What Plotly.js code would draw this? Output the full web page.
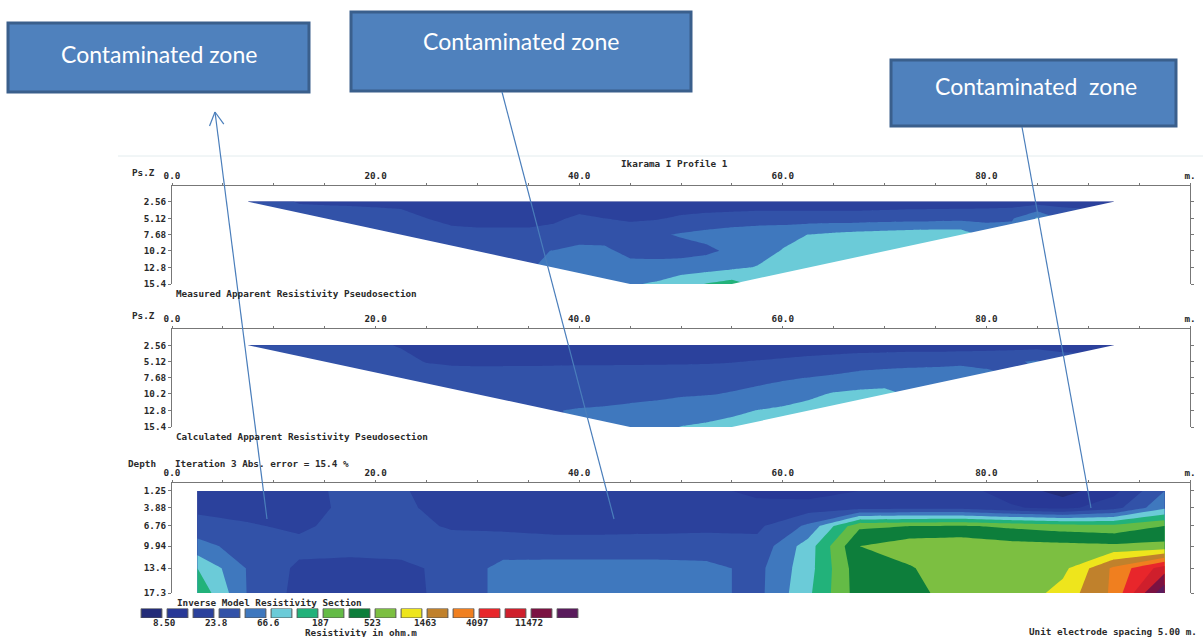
<!DOCTYPE html>
<html><head><meta charset="utf-8">
<script src="https://cdn.plot.ly/plotly-3.0.1.min.js"></script>
<style>html,body{margin:0;padding:0;background:#fff;overflow:hidden}#chart{width:1203px;height:637px}</style>
</head><body><div id="chart"></div>
<script>
// ---------------- data ----------------
const pseudoDepths = [2.56, 5.12, 7.68, 10.2, 12.8, 15.4];
const gridStep = 2.5;                                  // horizontal sampling of the pseudosections (m)
const levelStartX = [7.5, 15, 22.5, 30, 37.5, 45];     // first sample of each data level (m)

// Measured apparent resistivity (ohm.m), one array per level, sampled every 2.5 m
const measuredL1 = [29.2,26.4,23.2,22.0,21.5,20.4,19.4,18.4,17.5,17.5,17.5,17.5,17.5,17.9,18.4,17.9,17.5,17.5,17.5,17.5,17.5,17.5,17.5,17.5,17.5,17.9,18.4,18.4,18.4,18.4,18.4,18.9,19.4,20.4,21.5];
const measuredL2 = [32.4,32.4,32.4,30.8,23.8,20.4,19.4,19.4,19.4,21.5,26.4,23.8,21.5,22.6,25.7,27.8,29.2,30.8,30.8,30.8,30.8,30.8,31.6,32.4,33.3,34.1,35.0,37.8,70.2];
const measuredL3 = [32.4,30.8,28.5,27.8,27.8,27.8,29.2,30.8,32.4,34.1,36.9,41.9,46.5,51.5,54.2,57.1,67.0,73.9,79.9,84.0,88.5,90.8,90.8];
const measuredL4 = [35.9,36.9,37.8,40.2,46.5,44.1,34.1,32.4,32.4,35.9,44.1,54.2,68.4,77.8,86.2,90.8,95.5];
const measuredL5 = [41.9,44.1,46.5,47.7,48.9,51.5,54.2,60.1,68.4,81.9,105.8];
const measuredL6 = [63.3,70.2,90.8,114.0,137.0];

// Calculated apparent resistivity (ohm.m)
const calculatedL1 = [29.2,28.5,27.8,27.1,26.4,25.1,23.2,20.4,18.4,17.5,17.5,17.5,17.5,17.5,17.5,17.5,17.5,17.5,17.5,17.5,17.5,17.5,17.5,17.5,17.9,17.9,18.4,18.4,18.9,18.9,19.4,19.9,20.4,21.5,22.6];
const calculatedL2 = [30.8,30.0,29.2,26.4,23.4,22.6,22.4,22.4,22.4,22.4,22.4,22.4,22.4,22.4,22.4,22.6,23.2,24.4,25.7,27.8,30.0,32.4,34.1,35.0,35.0,35.9,36.9,37.8,41.9];
const calculatedL3 = [29.2,28.5,27.8,27.8,27.8,28.1,28.5,29.2,29.5,30.0,30.8,31.6,32.4,34.1,35.9,37.8,40.2,43.0,46.5,47.7,48.9,51.5,54.2];
const calculatedL4 = [30.8,31.6,32.4,33.3,34.1,34.5,35.0,35.9,37.8,38.8,40.9,44.1,48.9,58.6,70.2,75.8,79.9];
const calculatedL5 = [39.2,40.9,41.9,44.1,46.5,50.2,54.2,60.1,67.3,73.9,81.9];
const calculatedL6 = [51.5,57.1,67.6,72.0,77.8];

// Inverse model resistivity (ohm.m)
const modelX = [2.5,7.5,12.5,17.5,22.5,27.5,32.5,37.5,42.5,47.5,52.5,57.5,62.5,67.5,72.5,77.5,82.5,87.5,92.5,97.5];
const modelDepths = [1.25, 3.88, 6.76, 9.94, 13.4, 17.3];
const modelR1 = [18.4,17.5,19.4,27.8,25.1,18.4,18.4,18.4,18.4,18.4,17.5,11.6,11.0,14.2,16.6,16.6,11.6,6.9,12.2,39.8];
const modelR2 = [20.4,19.4,18.4,27.8,26.4,19.4,18.4,18.4,18.4,18.4,18.4,18.4,18.4,19.4,20.4,20.4,15.0,12.2,19.4,60.1];
const modelR3 = [30.8,25.1,21.5,29.2,27.8,22.6,21.5,20.4,20.4,20.9,21.5,21.5,44.1,281.7,312.3,328.8,281.7,241.4,217.7,312.3];
const modelR4 = [46.5,32.4,27.8,27.8,29.2,29.2,30.8,29.2,29.2,29.2,29.2,27.8,86.2,520,711.5,749.2,641.9,609.7,579.1,609.7];
const modelR5 = [111.4,37.8,21.5,20.4,20.9,27.8,46.5,48.9,48.9,48.9,46.5,34.1,90.8,425.3,496.2,788.7,711.5,749.2,2712,8866];
const modelR6 = [168.3,37.8,20.4,19.4,20.4,27.8,46.5,48.9,48.9,48.9,46.5,34.1,100.6,403.9,425.3,711.5,579.1,1074,2712,28970];

// Colour legend
const legendColors = ['#232c78','#283896','#2b419c','#3252a8','#3f78be','#6bcbd8','#22b27a','#64bb46','#0d7e3b',
                      '#7cbf41','#eee51c','#c0812c','#f07f1f','#e8262b','#cf1f2c','#7b1242','#5a1b5c'];
const legendLabels = ['8.50','23.8','66.6','187','523','1463','4097','11472'];
const firstLevel = 8.50;

const xTickVals = [0,20,40,60,80,100];
const xTickText = ['0.0','20.0','40.0','60.0','80.0','m.'];
const pseudoTickText = ['2.56','5.12','7.68','10.2','12.8','15.4'];
const modelTickText = ['1.25','3.88','6.76','9.94','13.4','17.3'];

// ---------------- build ----------------
const W = 1203, H = 637;
const fx = v => v / W, fy = v => 1 - v / H;
const mono = {family:'DejaVu Sans Mono, monospace', size:9.3, color:'#2a2a2a', weight:'bold'};
const logStart = Math.log10(firstLevel);
const logStep = Math.log10(parseFloat(legendLabels[1]) / firstLevel) / 2;
const colorscale = legendColors.map((c,i)=>[i/(legendColors.length-1), c]);

function contourBase(xa, ya){
  return {type:'contour', xaxis:xa, yaxis:ya, autocontour:false,
    contours:{start:logStart, end:logStart+15*logStep, size:logStep, coloring:'fill', showlines:false},
    colorscale:colorscale, showscale:false, line:{width:0, smoothing:0}, connectgaps:true, hoverinfo:'skip'};
}
function pseudoTraces(levels, xa, ya){
  const n1 = levels[0].length;
  const gx = levels[0].map((v,j)=>levelStartX[0] + j*gridStep);
  const z = levels.map((vals,i)=>{
    const off = Math.round((levelStartX[i]-levelStartX[0])/gridStep);
    const row = new Array(n1).fill(null);
    vals.forEach((v,j)=>{ row[off+j] = Math.log10(v); });
    return row;
  });
  const t = Object.assign(contourBase(xa,ya), {x:gx, y:pseudoDepths, z:z});
  const top = pseudoDepths[0], bot = pseudoDepths[pseudoDepths.length-1];
  const last = levels.length-1;
  const a = levelStartX[0], d = levelStartX[0] + (n1-1)*gridStep;
  const b = levelStartX[last], c = levelStartX[last] + (levels[last].length-1)*gridStep;
  const mk = (X,Y)=>({type:'scatter', mode:'lines', x:X, y:Y, fill:'toself', fillcolor:'#ffffff',
      line:{width:0, color:'rgba(0,0,0,0)'}, xaxis:xa, yaxis:ya, hoverinfo:'skip'});
  return [t, mk([a-3,a,b,b,a-3,a-3],[top,top,bot,bot+1,bot+1,top]),
             mk([d+3,d,c,c,d+3,d+3],[top,top,bot,bot+1,bot+1,top])];
}
const modelTrace = Object.assign(contourBase('x3','y3'), {x:modelX, y:modelDepths,
  z:[modelR1,modelR2,modelR3,modelR4,modelR5,modelR6].map(r=>r.map(v=>Math.log10(v)))});

const legendTrace = {type:'bar', x:legendColors.map((c,i)=>i), y:legendColors.map(()=>1), width:0.8,
  marker:{color:legendColors, line:{color:'#555', width:1}}, xaxis:'x4', yaxis:'y4', hoverinfo:'skip'};

const traces = [...pseudoTraces([measuredL1,measuredL2,measuredL3,measuredL4,measuredL5,measuredL6],'x','y'),
                ...pseudoTraces([calculatedL1,calculatedL2,calculatedL3,calculatedL4,calculatedL5,calculatedL6],'x2','y2'),
                modelTrace, legendTrace];

function xAx(anchor){
  return {domain:[fx(172), fx(1190)], range:[0,100], anchor:anchor, side:'top', tickvals:xTickVals, ticktext:xTickText,
    ticks:'outside', ticklen:2, tickcolor:'#777', showline:true, linecolor:'#777', linewidth:1, showgrid:false, zeroline:false,
    minor:{dtick:5, tick0:0, ticks:'outside', ticklen:2, tickcolor:'#777', showgrid:false}, tickfont:mono, fixedrange:true};
}
function yAx(anchor, top, bottom, maxD, vals, text){
  return {domain:[fy(bottom), fy(top)], range:[maxD,0], anchor:anchor, tickvals:vals, ticktext:text,
    ticks:'outside', ticklen:3, tickcolor:'#777', showline:true, linecolor:'#777', linewidth:1, mirror:'ticks',
    showgrid:false, zeroline:false, tickfont:mono, fixedrange:true};
}

const texts = [
  ['Ikarama I Profile 1', 619, 163],
  ['Ps.Z', 130, 172], ['Measured Apparent Resistivity Pseudosection', 174, 293],
  ['Ps.Z', 130, 315], ['Calculated Apparent Resistivity Pseudosection', 174, 436],
  ['Depth', 126, 463], ['Iteration 3 Abs. error = 15.4 %', 173, 463],
  ['Inverse Model Resistivity Section', 175, 602],
];
const annotations = texts.map(t=>({text:t[0], x:fx(t[1]), y:fy(t[2]), xref:'paper', yref:'paper',
  xanchor:'left', yanchor:'middle', showarrow:false, font:mono}));
legendLabels.forEach((l,i)=>annotations.push({text:l, x:2*i+0.5, y:fy(622), xref:'x4', yref:'paper',
  xanchor:'center', yanchor:'middle', showarrow:false, font:mono}));
annotations.push({text:'Resistivity in ohm.m', x:fx(361), y:fy(632), xref:'paper', yref:'paper', xanchor:'center', yanchor:'middle', showarrow:false, font:mono});
annotations.push({text:'Unit electrode spacing 5.00 m.', x:fx(1199), y:fy(631), xref:'paper', yref:'paper', xanchor:'right', yanchor:'middle', showarrow:false, font:mono});

// callout boxes
const boxes = [
  {x0:8, x1:309, y0:23, y1:92, text:'Contaminated zone', tx:159, ty:54},
  {x0:351, x1:691, y0:12, y1:91, text:'Contaminated zone', tx:521, ty:41},
  {x0:891, x1:1176, y0:60, y1:126, text:'Contaminated&nbsp; zone', tx:1036, ty:86},
];
const shapes = [{type:'line', xref:'paper', yref:'paper', x0:fx(118), x1:fx(1203), y0:fy(156), y1:fy(156), line:{color:'#e3ecee', width:1}}];
boxes.forEach(b=>{
  shapes.push({type:'rect', xref:'paper', yref:'paper', x0:fx(b.x0), x1:fx(b.x1), y0:fy(b.y1), y1:fy(b.y0),
    fillcolor:'#4f81bd', line:{color:'#3a5f8c', width:3}});
  annotations.push({text:b.text, x:fx(b.tx), y:fy(b.ty), xref:'paper', yref:'paper', xanchor:'center', yanchor:'middle',
    showarrow:false, font:{family:'Lato, Open Sans, sans-serif', size:23, color:'#ffffff'}});
});
// pointer lines
const pointers = [
  {x0:215, y0:112, x1:267, y1:519, head:true},
  {x0:502, y0:92, x1:614, y1:519},
  {x0:1022, y0:127, x1:1091, y1:508},
];
pointers.forEach(p=>{
  shapes.push({type:'line', xref:'paper', yref:'paper', x0:fx(p.x0), y0:fy(p.y0), x1:fx(p.x1), y1:fy(p.y1), line:{color:'#4a7ebb', width:1.2}});
  if(p.head){
    const dx=p.x1-p.x0, dy=p.y1-p.y0, L=Math.hypot(dx,dy), ux=dx/L, uy=dy/L;
    [-1,1].forEach(s=>{
      const ang = s*0.5, ca=Math.cos(ang), sa=Math.sin(ang);
      const ex = p.x0 + 15*(ux*ca - uy*sa), ey = p.y0 + 15*(ux*sa + uy*ca);
      shapes.push({type:'line', xref:'paper', yref:'paper', x0:fx(p.x0), y0:fy(p.y0), x1:fx(ex), y1:fy(ey), line:{color:'#4a7ebb', width:1.2}});
    });
  }
});

const layout = {
  width:W, height:H, margin:{l:0,r:0,t:0,b:0}, paper_bgcolor:'#ffffff', plot_bgcolor:'rgba(0,0,0,0)', showlegend:false,
  xaxis:xAx('y'), yaxis:yAx('x', 185.5, 284, 15.4, pseudoDepths, pseudoTickText),
  xaxis2:xAx('y2'), yaxis2:yAx('x2', 329, 427, 15.4, pseudoDepths, pseudoTickText),
  xaxis3:xAx('y3'), yaxis3:yAx('x3', 483, 593, 17.3, modelDepths, modelTickText),
  xaxis4:{domain:[fx(138.5), fx(580.5)], range:[-0.5,16.5], anchor:'y4', showticklabels:false,
    ticks:'', showline:false, showgrid:false, zeroline:false, fixedrange:true},
  yaxis4:{domain:[fy(618), fy(608.5)], range:[0,1], anchor:'x4', visible:false, fixedrange:true},
  annotations:annotations, shapes:shapes
};
Plotly.newPlot('chart', traces, layout, {displayModeBar:false, staticPlot:true});
</script></body></html>
